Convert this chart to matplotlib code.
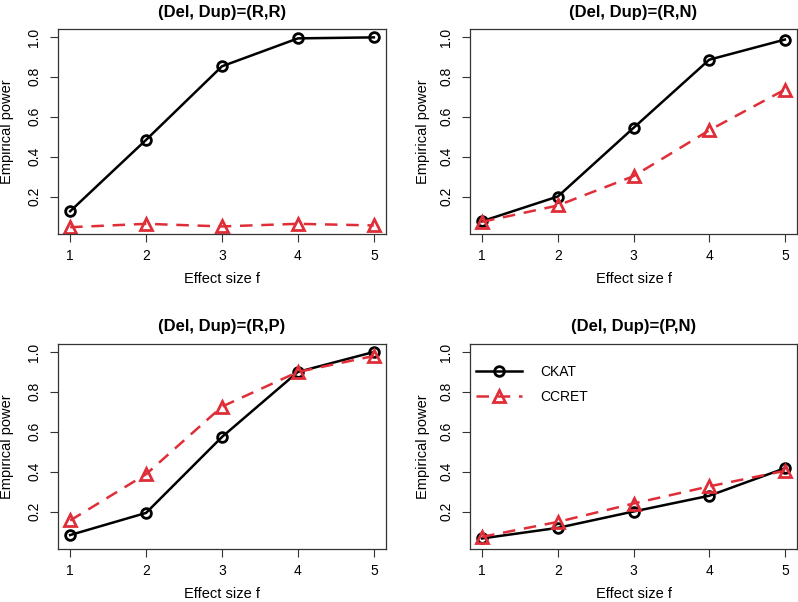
import matplotlib
matplotlib.use("Agg")
import matplotlib.pyplot as plt
import numpy as np

plt.rcParams['font.family'] = ['Liberation Sans', 'DejaVu Sans']

# effect size f
effect = [1, 2, 3, 4, 5]

titles = ["(Del, Dup)=(R,R)", "(Del, Dup)=(R,N)",
          "(Del, Dup)=(R,P)", "(Del, Dup)=(P,N)"]

# empirical power
ckat_rr = [0.126, 0.484, 0.853, 0.993, 0.998]
ccret_rr = [0.046, 0.063, 0.050, 0.063, 0.055]

ckat_rn = [0.076, 0.200, 0.544, 0.886, 0.987]
ccret_rn = [0.073, 0.155, 0.302, 0.532, 0.736]

ckat_rp = [0.082, 0.193, 0.574, 0.900, 1.000]
ccret_rp = [0.155, 0.387, 0.726, 0.900, 0.980]

ckat_pn = [0.065, 0.118, 0.200, 0.279, 0.417]
ccret_pn = [0.073, 0.148, 0.240, 0.326, 0.404]

ckat = [ckat_rr, ckat_rn, ckat_rp, ckat_pn]
ccret = [ccret_rr, ccret_rn, ccret_rp, ccret_pn]

red = '#DF2E38'

fig = plt.figure(figsize=(7.98, 6.02), dpi=100)

W, H = 798.0, 602.0
# axes boxes in pixels (left, top, right, bottom)
boxes = [(58, 29, 386, 234), (470, 29, 797, 234),
         (58, 344, 386, 549), (470, 344, 797, 549)]
ylab_x = [7, 423.5, 7, 423.5]

for i, (x0, y0, x1, y1) in enumerate(boxes):
    w, h = x1 - x0, y1 - y0
    ax = fig.add_axes([x0 / W, 1 - y1 / H, w / W, h / H])
    ax.plot(effect, ckat[i], color='black', lw=1.8, marker='o', ms=7,
            mfc='none', mec='black', mew=2, label='CKAT')
    ax.plot(effect, ccret[i], color=red, lw=1.8, ls=(0, (5, 3.5)), marker='^', ms=8,
            mfc='none', mec=red, mew=2, label='CCRET')
    ax.set_xlim(0.84, 5.16)
    ax.set_ylim(0.012, 1.04)
    ax.set_xticks(effect)
    ax.set_yticks([0.2, 0.4, 0.6, 0.8, 1.0])
    ax.set_yticklabels(['0.2', '0.4', '0.6', '0.8', '1.0'], rotation=90, va='center')
    ax.tick_params(direction='out', length=5.5, width=0.8, labelsize=10, color='#333333')
    ax.tick_params(axis='x', pad=5.5)
    ax.tick_params(axis='y', pad=6.5)
    for s in ax.spines.values():
        s.set_color('#333333')
        s.set_linewidth(0.9)
    ax.set_title(titles[i], fontsize=12, fontweight='bold', pad=9)
    ax.set_xlabel('Effect size f', fontsize=10.5, va='center', ha='center')
    ax.set_ylabel('Empirical power', fontsize=10.5, va='center', ha='center')
    ax.xaxis.set_label_coords(0.5, -(279 - 234) / 205.0)
    ax.yaxis.set_label_coords((ylab_x[i] - x0) / w, 0.5)
    if i == 3:
        ax.legend(loc='upper left', frameon=False, fontsize=10, handlelength=3.3,
                  handletextpad=1.3, labelspacing=0.8, borderpad=0, borderaxespad=0,
                  bbox_to_anchor=(0.018, 0.9))

fig.savefig('out.png', dpi=100)
